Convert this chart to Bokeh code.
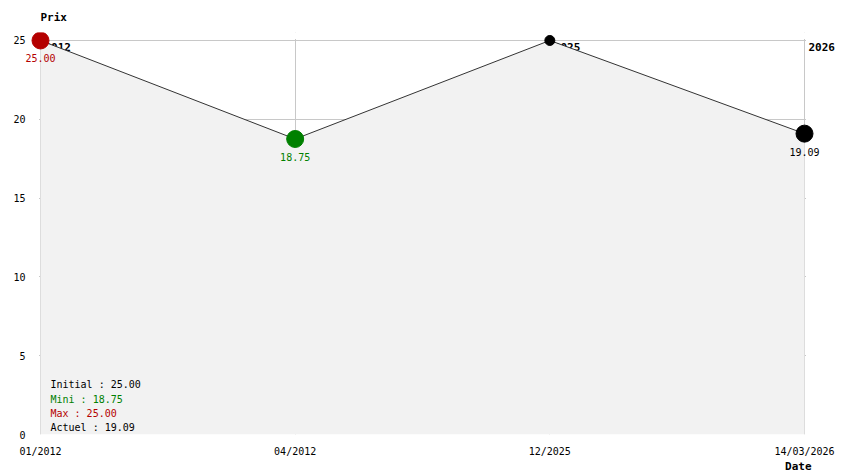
from bokeh.plotting import figure
from bokeh.models import FixedTicker, LabelSet, ColumnDataSource, BoxAnnotation, Title
from bokeh.core.properties import value
from bokeh.embed import file_html
from bokeh.resources import INLINE

dates = ["01/2012", "04/2012", "12/2025", "14/03/2026"]
prices = [25.00, 18.75, 25.00, 19.09]
y_ticks = [0, 5, 10, 15, 20, 25]

RED = "#b40000"
GREEN = "#008000"
FONT = "DejaVu Sans Mono"
VF = value(FONT)

xs = list(range(len(dates)))
n = len(dates) - 1
XPX = 254.67   # pixels per x unit
YPX = 15.8     # pixels per y unit
p = figure(width=844, height=474, output_backend="svg", toolbar_location=None,
           x_range=(-16 / XPX, n + 40 / XPX), y_range=(0, 25 + 8 / YPX),
           min_border_left=24, min_border_right=0, min_border_top=32, min_border_bottom=39)
p.outline_line_color = None
p.background_fill_color = "white"

for ax in (p.xaxis, p.yaxis):
    ax.axis_line_color = None
    ax.major_tick_line_color = None
    ax.minor_tick_line_color = None
    ax.major_label_text_font = FONT
    ax.major_label_text_font_size = "10px"
    ax.major_label_text_color = "black"
p.xaxis.ticker = FixedTicker(ticks=xs)
p.xaxis.major_label_overrides = {i: d for i, d in enumerate(dates)}
p.xaxis.major_label_standoff = 5
p.yaxis.ticker = FixedTicker(ticks=y_ticks)
p.yaxis.major_label_standoff = -7
p.grid.grid_line_color = "#c8c8c8"
p.grid.grid_line_width = 1

# white covers so grid lines stay within the data area
e = 1.5
p.add_layout(BoxAnnotation(right=-e / XPX, fill_color="white", fill_alpha=1, line_alpha=0, level="underlay"))
p.add_layout(BoxAnnotation(left=n + e / XPX, fill_color="white", fill_alpha=1, line_alpha=0, level="underlay"))
p.add_layout(BoxAnnotation(bottom=25 + e / YPX, fill_color="white", fill_alpha=1, line_alpha=0, level="underlay"))

# year labels at first point of each year (drawn below the fill)
yr_x, yr_t = [], []
seen = set()
for i, d in enumerate(dates):
    y = d.split("/")[-1]
    if y not in seen:
        seen.add(y)
        yr_x.append(i)
        yr_t.append(y)
yr_src = ColumnDataSource(dict(x=yr_x, y=[25] * len(yr_x), t=yr_t))
p.add_layout(LabelSet(x="x", y="y", text="t", source=yr_src, x_offset=4, y_offset=-3,
                      text_font=VF, text_font_style="bold", text_font_size="11px",
                      text_baseline="top", text_align="left", text_color="black",
                      level="underlay"))

# filled area and line
p.varea(x=xs, y1=[0] * len(xs), y2=prices, fill_color="#f2f2f2")
p.line(x=xs, y=prices, line_color="#333333", line_width=1)

# markers
i_min = prices.index(min(prices))
i_max = prices.index(max(prices))
last = len(prices) - 1
for i in range(len(prices)):
    if i == i_max:
        c, s = RED, 17
    elif i == i_min:
        c, s = GREEN, 17
    elif i == last:
        c, s = "black", 17
    else:
        c, s = "black", 10
    p.scatter(x=[xs[i]], y=[prices[i]], size=s, fill_color=c, line_color=c)

# value labels
lab_idx = [i_max, i_min, last]
lab_src = ColumnDataSource(dict(x=[xs[i] for i in lab_idx], y=[prices[i] for i in lab_idx],
                                t=["%.2f" % prices[i] for i in lab_idx],
                                c=[RED, GREEN, "black"]))
p.add_layout(LabelSet(x="x", y="y", text="t", source=lab_src, text_color="c",
                      y_offset=-18, text_align="center", text_baseline="middle",
                      text_font=VF, text_font_size="10px"))

# summary block
summary = ["Initial : %.2f" % prices[0], "Mini : %.2f" % min(prices),
           "Max : %.2f" % max(prices), "Actuel : %.2f" % prices[-1]]
sum_src = ColumnDataSource(dict(x=[0] * 4, y=[0] * 4, t=summary,
                                c=["black", GREEN, RED, "black"],
                                yo=[50, 35, 21, 7]))
p.add_layout(LabelSet(x="x", y="y", text="t", source=sum_src, text_color="c",
                      x_offset=10, y_offset="yo", text_align="left",
                      text_baseline="middle", text_font=VF, text_font_size="10px"))

p.add_layout(Title(text="Prix", align="left", offset=16, standoff=14, text_color="black",
                   vertical_align="top",
                   text_font=FONT, text_font_style="bold", text_font_size="11px"), "above")
p.add_layout(Title(text="Date", align="right", offset=33, standoff=0, text_color="black",
                   vertical_align="top",
                   text_font=FONT, text_font_style="bold", text_font_size="11px"), "below")

open("out.html", "w").write(file_html(p, INLINE))
